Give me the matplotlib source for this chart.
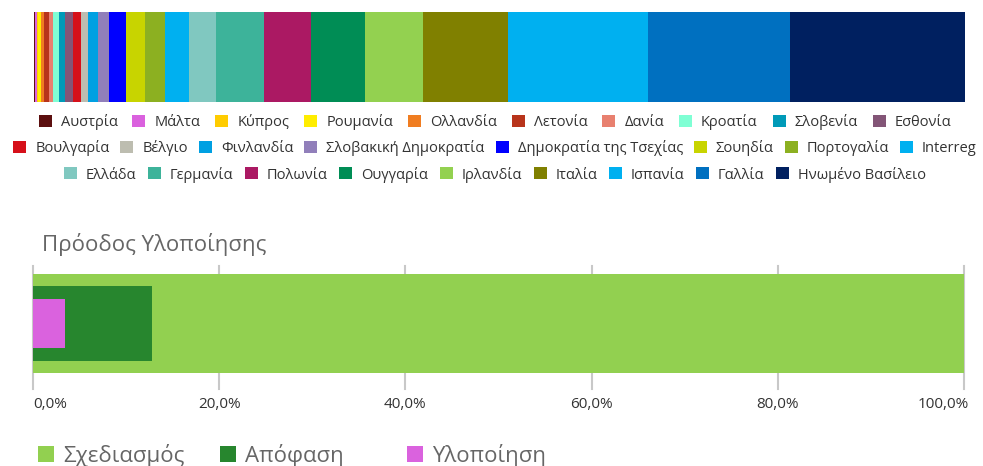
import matplotlib
matplotlib.use("Agg")
import matplotlib.pyplot as plt
import matplotlib.transforms as mtransforms

plt.rcParams['font.family'] = ['Open Sans', 'DejaVu Sans']

# ---- data ----
countries = ["Αυστρία", "Μάλτα", "Κύπρος", "Ρουμανία", "Ολλανδία", "Λετονία", "Δανία",
             "Κροατία", "Σλοβενία", "Εσθονία", "Βουλγαρία", "Βέλγιο", "Φινλανδία",
             "Σλοβακική Δημοκρατία", "Δημοκρατία της Τσεχίας", "Σουηδία", "Πορτογαλία",
             "Interreg", "Ελλάδα", "Γερμανία", "Πολωνία", "Ουγγαρία", "Ιρλανδία",
             "Ιταλία", "Ισπανία", "Γαλλία", "Ηνωμένο Βασίλειο"]
shares = [1.0, 1.6, 1.7, 2.3, 3.3, 5.3, 4.3, 6, 6, 8, 8, 7, 10, 11, 17, 19, 20,
          24, 27, 48, 47, 54, 58, 85, 140, 142, 175]
country_colors = ["#5c0f0f", "#da61de", "#ffcc00", "#ffed00", "#f07d21", "#b8341b", "#e8806f",
                  "#7fffd4", "#009ab8", "#835577", "#d6101a", "#bdbdb0", "#00a0e2",
                  "#917fba", "#0000ff", "#c8d400", "#8cb021", "#00b0f0", "#80c8c0",
                  "#3db39a", "#ab1963", "#008d55", "#93d150", "#808000", "#00b0f0",
                  "#0070c0", "#002060"]
legend_rows = [10, 8, 9]

progress_labels = ["Σχεδιασμός", "Απόφαση", "Υλοποίηση"]
progress_values = [100.0, 12.8, 3.4]
progress_colors = ["#92d050", "#27862e", "#da62de"]
progress_heights = [0.8, 0.6, 0.4]
xticks = [0, 20, 40, 60, 80, 100]
xtick_labels = ["0,0%", "20,0%", "40,0%", "60,0%", "80,0%", "100,0%"]
title = "Πρόοδος Υλοποίησης"

W, H = 983, 466
fig = plt.figure(figsize=(W / 100, H / 100), dpi=100)

def fx(px):
    return px / W

def fy(py):
    return 1 - py / H

# ---- top stacked bar ----
ax1 = fig.add_axes([fx(34), fy(101.5), (965 - 34) / W, (101.5 - 12) / H])
left = 0
handles = []
for name, v, c in zip(countries, shares, country_colors):
    b = ax1.barh(0, v, left=left, color=c, height=1, label=name, linewidth=0)
    handles.append(b)
    left += v
ax1.set_xlim(0, sum(shares))
ax1.set_ylim(-0.5, 0.5)
ax1.axis('off')

fs_leg = 10.5
px_per_fs = fs_leg * 100 / 72
row_y = [122.5, 148, 174.5]
row_gap = [15, 11, 11.5]
start = 0
for n, yy, gap in zip(legend_rows, row_y, row_gap):
    hs = handles[start:start + n]
    ls = countries[start:start + n]
    start += n
    fig.legend(hs, ls, loc='center', bbox_to_anchor=(fx(495), fy(yy)), ncol=n,
               frameon=False, fontsize=fs_leg, borderpad=0, borderaxespad=0,
               handlelength=13 / px_per_fs, handleheight=13 / px_per_fs,
               handletextpad=9 / px_per_fs, columnspacing=gap / px_per_fs,
               labelcolor='#333333')

# ---- title ----
fig.text(fx(42), fy(244), title, fontsize=16, color='#666666', va='center', ha='left')

# ---- progress chart ----
ax2 = fig.add_axes([fx(33), fy(389), (964 - 33) / W, (389 - 266) / H])
pbars = []
for lab, v, c, h in zip(progress_labels, progress_values, progress_colors, progress_heights):
    pbars.append(ax2.barh(0, v, height=h, color=c, label=lab, linewidth=0, zorder=2))
ax2.set_xlim(0, 100)
ax2.set_ylim(-0.531, 0.466)
ax2.set_xticks(xticks)
ax2.set_xticklabels(xtick_labels, fontsize=11, color='#333333')
ax2.set_yticks([])
ax2.tick_params(axis='x', length=0, pad=6)
ax2.grid(axis='x', color='#c8c8c8', linewidth=1.5, zorder=0)
ax2.set_axisbelow(True)
for s in ax2.spines.values():
    s.set_visible(False)
for gl in ax2.get_xgridlines():
    gl.set_clip_on(False)
tls = ax2.get_xticklabels()
tls[0].set_horizontalalignment('left')
tls[-1].set_horizontalalignment('right')
tls[-1].set_transform(tls[-1].get_transform() +
                      mtransforms.ScaledTranslation(5 / 100, 0, fig.dpi_scale_trans))

fs_leg2 = 16
px2 = fs_leg2 * 100 / 72
for bc, lab, xpos in zip(pbars, progress_labels, [38, 220, 407]):
    fig.legend([bc], [lab], loc='center left', bbox_to_anchor=(fx(xpos), fy(455.5)),
               frameon=False, fontsize=fs_leg2, borderpad=0, borderaxespad=0,
               handlelength=16 / px2, handleheight=16 / px2, handletextpad=9 / px2,
               labelcolor='#666666')

fig.savefig("out.png", dpi=100)
